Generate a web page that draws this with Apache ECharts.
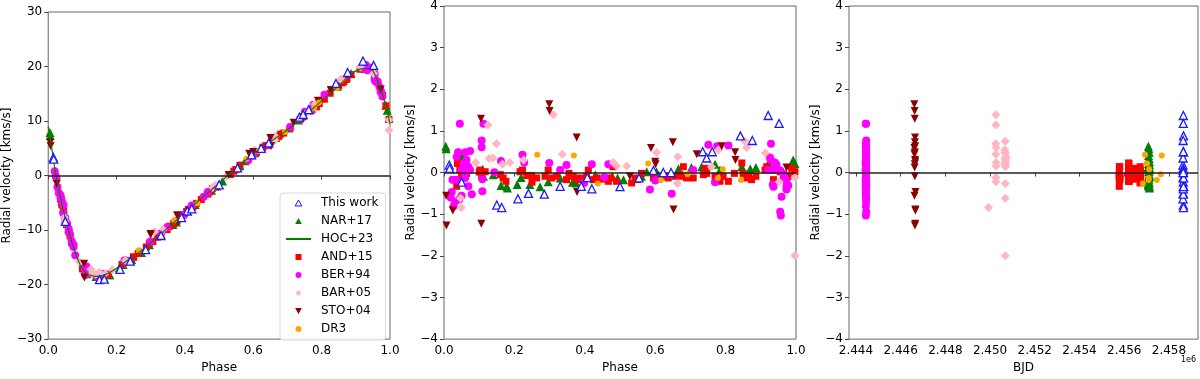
<!DOCTYPE html>
<html>
<head>
<meta charset="utf-8">
<title>RV residuals</title>
<script src="https://cdn.jsdelivr.net/npm/echarts@6/dist/echarts.min.js"></script>
</head>
<body style="margin:0;padding:0;background:#fff">
<div id="chart" style="width:1200px;height:379px"></div>
<script>
// HOC+23 model curve
var hocPhase = [0,0.01,0.02,0.03,0.04,0.05,0.06,0.07,0.08,0.09,0.10,0.11,0.12,0.13,0.145,0.16,0.18,0.20,0.22,0.25,0.28,0.30,0.32,0.35,0.40,0.45,0.50,0.525,0.55,0.60,0.65,0.70,0.75,0.80,0.85,0.88,0.90,0.92,0.94,0.95,0.96,0.97,0.98,0.99,1.0];
var hocRv = [9.0,5.2,1.0,-2.2,-5.2,-7.9,-10.3,-12.4,-14.3,-15.9,-17.1,-17.8,-18.2,-18.4,-18.5,-18.3,-17.8,-17.0,-16.1,-14.8,-13.4,-12.3,-11.2,-9.6,-6.8,-4.1,-1.4,0.0,1.3,4.0,6.2,8.4,11.0,13.7,16.5,18.3,19.2,19.6,19.6,19.2,17.9,16.2,14.5,12.2,9.5];

// This work
var twPhase = [0.015,0.016,0.05,0.15,0.164,0.21,0.24,0.285,0.33,0.39,0.407,0.42,0.5,0.554,0.595,0.623,0.645,0.735,0.746,0.762,0.842,0.876,0.921,0.952];
var twRv = [3.3,3.0,-8.4,-19.1,-19.0,-17.2,-15.7,-13.6,-11.0,-7.7,-6.5,-6.1,-1.7,1.4,3.8,5.0,6.0,10.7,11.2,12.1,16.9,18.9,21.0,20.2];
var twRes = [0.18,0.1,-0.23,-0.78,-0.84,-0.63,-0.5,-0.52,-0.33,-0.33,-0.12,-0.39,-0.34,-0.13,0.05,0,0,0.5,0.35,0.5,0.88,0.77,1.37,1.18];
var twBjd = [2458628,2458634,2458640,2458646,2458652,2458630,2458638,2458644,2458650,2458656,2458632,2458642,2458648,2458654,2458636,2458646,2458640,2458650,2458634,2458644,2458652,2458638,2458646,2458642];

// NAR+17
var narPhase = [0.005,0.006,0.04,0.05,0.055,0.044,0.11,0.112,0.14,0.162,0.178,0.18,0.208,0.219,0.244,0.273,0.296,0.33,0.365,0.375,0.43,0.478,0.493,0.51,0.561,0.576,0.604,0.666,0.703,0.732,0.77,0.784,0.846,0.87,0.886,0.921,0.926,0.988,0.992,0.997];
var narRv = [7.9,7.3,-4.7,-7.5,-8.8,-6.0,-17.7,-18.0,-18.5,-18.6,-18.2,-18.2,-16.9,-16.3,-15.4,-14.1,-12.7,-10.8,-9.0,-8.5,-5.3,-2.7,-1.9,-1.0,1.8,2.7,4.2,7.0,8.7,10.2,12.3,12.9,16.4,17.8,18.7,19.8,19.7,12.9,12.0,10.5];
var narRes = [0.63,0.57,0.49,0.41,0.34,0.26,0.08,-0.09,-0.05,-0.31,-0.33,-0.37,-0.29,-0.12,-0.29,-0.34,-0.22,-0.13,-0.23,-0.25,-0.05,-0.09,-0.13,-0.17,-0.09,0.02,0.02,0.09,0.12,0.14,0.2,0.06,0.14,0.09,0.12,0.22,0.14,0.18,0.3,0.22];
var narBjd = [2457080,2457100,2457120,2457090,2457110,2457130,2457070,2457100,2457120,2457085,2457105,2457125,2457075,2457095,2457115,2457135,2457080,2457100,2457120,2457090,2457110,2457130,2457070,2457100,2457120,2457085,2457105,2457125,2457075,2457095,2457115,2457135,2457080,2457100,2457120,2457090,2457110,2457130,2457070,2457100];

// AND+15
var andPhase = [0.036,0.04,0.045,0.055,0.064,0.038,0.05,0.1,0.107,0.117,0.102,0.16,0.168,0.176,0.216,0.223,0.235,0.249,0.263,0.25,0.287,0.296,0.306,0.32,0.348,0.355,0.367,0.377,0.386,0.396,0.41,0.405,0.424,0.434,0.448,0.467,0.48,0.49,0.472,0.533,0.543,0.549,0.561,0.595,0.609,0.628,0.637,0.656,0.67,0.68,0.689,0.708,0.675,0.737,0.742,0.746,0.77,0.784,0.793,0.808,0.825,0.846,0.85,0.86,0.865,0.874,0.886,0.912,0.917,0.936,0.955,0.964,0.978,0.988,0.997];
var andRv = [-4.3,-5.4,-6.5,-9.0,-11.1,-4.4,-8.0,-17.1,-17.7,-18.1,-17.1,-18.4,-18.2,-18.1,-16.3,-15.9,-15.6,-14.9,-14.3,-15.0,-13.1,-12.4,-12.1,-11.3,-9.9,-9.3,-8.8,-8.3,-7.7,-7.2,-6.2,-6.6,-5.7,-5.1,-4.4,-3.4,-2.4,-2.1,-3.0,0.2,0.8,1.1,1.9,3.6,4.2,5.1,5.5,6.4,7.1,7.6,7.8,8.7,7.2,10.3,10.7,10.8,12.0,12.6,13.2,14.0,15.1,16.5,16.5,17.0,17.2,17.8,18.5,19.5,19.7,19.4,18.6,17.1,14.7,12.8,10.3];
var andRes = [-0.33,-0.17,0.06,0.14,-0.02,0.22,-0.05,0.01,-0.09,0.02,0.06,-0.05,-0.13,-0.21,0.02,0.06,-0.07,-0.07,-0.13,-0.23,-0.09,0.06,-0.13,-0.09,-0.17,-0.02,-0.09,-0.17,-0.13,-0.17,0.06,-0.09,-0.17,-0.13,-0.16,-0.21,0.14,-0.21,-0.13,-0.25,-0.13,-0.17,-0.02,-0.13,-0.16,-0.09,-0.13,-0.09,-0.05,0.14,-0.13,-0.13,-0.09,-0.05,0.1,-0.02,-0.09,-0.21,-0.09,-0.21,-0.02,0.23,-0.02,-0.13,-0.09,-0.17,-0.09,0.06,0.14,-0.17,0.02,-0.13,-0.09,0.1,0.02];
var andBjd = [2455780,2456200,2456470,2456710,2455790,2456210,2456480,2456720,2455800,2456220,2456490,2456730,
  2455780,2456200,2456470,2456710,2455790,2456210,2456480,2456720,2455800,2456220,2456490,2456730,
  2455780,2456200,2456470,2456710,2455790,2456210,2456480,2456720,2455800,2456220,2456490,2456730,
  2455780,2456200,2456470,2456710,2455790,2456210,2456480,2456720,2455800,2456220,2456490,2456730,
  2455780,2456200,2456470,2456710,2455790,2456210,2456480,2456720,2455800,2456220,2456490,2456730,
  2455780,2456200,2456470,2456710,2455790,2456210,2456480,2456720,2455800,2456220,2456490,2456730,
  2455780,2456200,2456470];

// BER+94
var berPhase = [0.045,0.022,0.019,0.027,0.031,0.024,0.036,0.04,0.06,0.074,0.05,0.055,0.064,0.069,0.06,0.069,0.05,0.044,0.079,0.06,0.074,0.036,0.107,0.107,0.112,0.109,0.109,0.143,0.162,0.223,0.228,0.299,0.33,0.348,0.42,0.398,0.455,0.467,0.585,0.6,0.647,0.751,0.77,0.776,0.808,0.708,0.929,0.926,0.928,0.936,0.94,0.934,0.936,0.945,0.921,0.955,0.959,0.955,0.957,0.969,0.973,0.973,0.978,0.964,0.973];
var berRv = [-5.4,-0.1,0.8,-2.1,-3.2,-0.5,-4.2,-4.7,-9.8,-12.7,-7.8,-8.9,-10.8,-12.1,-10.4,-12.5,-8.5,-6.9,-14.6,-10.3,-13.1,-3.6,-16.8,-17.0,-16.7,-17.9,-18.2,-18.5,-18.0,-15.6,-15.6,-12.1,-10.6,-9.5,-5.5,-7.2,-3.9,-3.0,2.8,3.8,5.6,11.7,11.9,13.0,14.8,8.9,20.3,20.0,19.9,19.7,19.8,19.3,19.3,19.6,19.7,18.6,17.4,17.6,17.3,16.3,15.4,15.5,14.5,17.2,15.3];
var berRes = [1.17,-0.47,-0.6,-0.81,-0.7,-0.17,-0.17,0.49,0.49,0.52,0.06,0.22,0.3,0.14,-0.13,-0.33,-0.56,-0.64,-0.52,-0.02,0.06,0.38,0.77,0.61,1.17,-0.16,-0.45,0.01,0.28,0.43,0.24,0.23,0.06,0.18,0.2,-0.25,-0.11,0.2,-0.41,-0.19,-0.51,0.67,-0.23,0.63,0.65,0.06,0.69,0.36,0.3,0.06,0.24,-0.29,-0.34,0.18,0.06,0.05,-0.58,-0.94,-1.03,-0.13,-0.33,-0.21,-0.31,-0.02,-0.41];
var berBjd = [2444440,2444450,2444460,2444445,2444455,2444440,2444450,2444460,2444445,2444455,
  2444440,2444450,2444460,2444445,2444455,2444440,2444450,2444460,2444445,2444455,
  2444440,2444450,2444460,2444445,2444455,2444440,2444450,2444460,2444445,2444455,
  2444440,2444450,2444460,2444445,2444455,2444440,2444450,2444460,2444445,2444455,
  2444440,2444450,2444460,2444445,2444455,2444440,2444450,2444460,2444445,2444455,
  2444440,2444450,2444460,2444445,2444455,2444440,2444450,2444460,2444445,2444455,
  2444440,2444450,2444460,2444445,2444455];

// BAR+05
var barPhase = [0.047,0.049,0.09,0.125,0.128,0.139,0.149,0.166,0.187,0.226,0.311,0.336,0.481,0.49,0.519,0.604,0.664,0.663,0.76,0.78,0.855,0.86,0.913,0.952,0.997,0.997];
var barRv = [-7.7,-8.4,-15.7,-17.2,-18.0,-18.1,-17.8,-18.0,-17.3,-15.6,-10.3,-9.9,-2.2,-1.8,-0.2,4.7,7.2,6.5,11.7,13.1,17.6,17.7,19.9,18.7,8.3,10.2];
var barRes = [-0.62,-0.84,0.24,1.14,0.34,0.35,0.69,0.2,0.24,0.3,1.39,0.44,0.24,0.16,0.16,0.48,0.38,-0.26,0.14,0.54,0.75,0.6,0.47,-0.22,-2.0,-0.12];
var barBjd = [2450680,2449930,2450690,2450260,2450670,2450700,2450250,2450660,2450270,2450680,2450260,2450255,2450690,2450265,2450675,2450665,2450700,2450680,2450690,2450660,2450680,2450270,2450690,2450255,2450680,2450260];

// STO+04
var stoPhase = [0.006,0.007,0.025,0.105,0.106,0.299,0.3,0.377,0.378,0.528,0.588,0.6,0.601,0.65,0.652,0.718,0.789,0.827,0.828,0.973];
var stoRv = [6.1,5.4,-1.5,-16.2,-18.7,-10.7,-10.8,-7.3,-8.5,0.1,4.0,4.3,4.2,6.9,5.4,9.7,13.7,15.7,15.6,15.8];
var stoRes = [-0.56,-1.27,-0.91,1.29,-1.23,1.64,1.48,0.84,-0.47,-0.09,0.59,0.26,0.2,0.73,-0.89,0.44,0.63,0.49,0.3,0.12];
var stoBjd = [2446620,2446640,2446660,2446630,2446650,2446610,2446625,2446645,2446665,2446635,2446615,2446655,2446630,2446640,2446660,2446620,2446650,2446635,2446645,2446625];

// DR3
var dr3Phase = [0.265,0.369,0.437,0.58,0.616,0.692,0.778,0.792,0.844];
var dr3Rv = [-13.7,-8.2,-5.1,3.1,4.5,8.0,12.4,13.4,16.0];
var dr3Res = [0.43,0.41,-0.26,0.22,-0.18,-0.04,-0.13,0.08,-0.18];
var dr3Bjd = [2456930,2457680,2456830,2457020,2457460,2457640,2457100,2457120,2457090];

var bjdTicks = [2444000,2446000,2448000,2450000,2452000,2454000,2456000,2458000];

function zip(a, b) { return a.map(function (v, i) { return [v, b[i]]; }); }
function minus(v) { return v < 0 ? '\u2212' + Math.abs(v) : String(v); }

var font = 'DejaVu Sans';
var txt = { color: '#000', fontFamily: font, fontSize: 12 };

var styles = {
  'This work': { symbol: 'triangle', symbolSize: 8, itemStyle: { color: '#fff', borderColor: '#1a1aff', borderWidth: 1.3, opacity: 1 }, z: 5 },
  'NAR+17': { symbol: 'triangle', symbolSize: 9, itemStyle: { color: '#008000', opacity: 1 }, z: 2 },
  'AND+15': { symbol: 'rect', symbolSize: 7, itemStyle: { color: '#ff0000', opacity: 1 }, z: 2 },
  'BER+94': { symbol: 'circle', symbolSize: 8, itemStyle: { color: '#ff00ff', opacity: 1 }, z: 2 },
  'BAR+05': { symbol: 'diamond', symbolSize: 9, itemStyle: { color: '#ffb6c1', opacity: 1 }, z: 2 },
  'STO+04': { symbol: 'triangle', symbolSize: 8, symbolRotate: 180, itemStyle: { color: '#8b0000', opacity: 1 }, z: 2 },
  'DR3': { symbol: 'circle', symbolSize: 6, itemStyle: { color: '#ffa500', opacity: 1 }, z: 2 }
};

var sets = [
  ['This work', twPhase, twRv, twRes, twBjd],
  ['NAR+17', narPhase, narRv, narRes, narBjd],
  ['AND+15', andPhase, andRv, andRes, andBjd],
  ['BER+94', berPhase, berRv, berRes, berBjd],
  ['BAR+05', barPhase, barRv, barRes, barBjd],
  ['STO+04', stoPhase, stoRv, stoRes, stoBjd],
  ['DR3', dr3Phase, dr3Rv, dr3Res, dr3Bjd]
];

var zeroLine = {
  silent: true, symbol: ['none', 'none'], label: { show: false },
  lineStyle: { color: '#222', width: 1.5, type: 'solid' },
  data: [{ yAxis: 0 }], animation: false
};

var series = [];
sets.forEach(function (s) {
  var st = styles[s[0]];
  var panels = [zip(s[1], s[2]), zip(s[1], s[3]), zip(s[4], s[3])];
  panels.forEach(function (d, g) {
    var ser = {
      name: s[0], type: 'scatter', xAxisIndex: g, yAxisIndex: g,
      symbol: st.symbol, symbolSize: st.symbolSize, symbolRotate: st.symbolRotate || 0,
      itemStyle: st.itemStyle, z: st.z, data: d
    };
    if (s[0] === 'This work' && g > 0) ser.markLine = zeroLine;
    series.push(ser);
  });
});
series.push({
  name: 'HOC+23', type: 'line', xAxisIndex: 0, yAxisIndex: 0,
  data: zip(hocPhase, hocRv), smooth: 0.3, symbol: 'none', z: 4,
  lineStyle: { color: '#008000', width: 1.2 }, itemStyle: { color: '#008000' },
  markLine: zeroLine
});

function xAx(g, min, max, name, extra) {
  var a = {
    gridIndex: g, type: 'value', min: min, max: max,
    name: name, nameLocation: 'middle', nameGap: 17, nameTextStyle: txt,
    axisLine: { show: false }, splitLine: { show: false },
    axisTick: { show: true, length: 4, lineStyle: { color: '#444' } },
    axisLabel: Object.assign({ margin: 6, formatter: function (v) { return v.toFixed(1); } }, txt)
  };
  return Object.assign(a, extra || {});
}
function yAx(g, min, max, interval, gap) {
  return {
    gridIndex: g, type: 'value', min: min, max: max, interval: interval,
    name: 'Radial velocity [kms/s]', nameLocation: 'middle', nameGap: gap, nameTextStyle: txt,
    axisLine: { show: false }, splitLine: { show: false },
    axisTick: { show: true, length: 4, lineStyle: { color: '#444' } },
    axisLabel: Object.assign({ margin: 6, formatter: minus }, txt)
  };
}

var gridBase = { show: true, borderColor: '#666', borderWidth: 1, backgroundColor: 'transparent', containLabel: false };

var pathTri = 'path://M5,0L10,9L0,9Z';
var pathDown = 'path://M0,0L10,0L5,9Z';
var pathSq = 'path://M0,0H10V10H0Z';
var pathDia = 'path://M5,0L10,5L5,10L0,5Z';

var option = {
  animation: false,
  backgroundColor: '#fff',
  grid: [
    Object.assign({ left: 44, top: 12, width: 346, height: 336 }, gridBase),
    Object.assign({ left: 444, top: 5, width: 352, height: 343 }, gridBase),
    Object.assign({ left: 849, top: 6, width: 349, height: 342 }, gridBase)
  ],
  xAxis: [
    xAx(0, 0, 1, 'Phase', { interval: 0.2 }),
    xAx(1, 0, 1, 'Phase', { interval: 0.2 }),
    xAx(2, 2443690, 2459300, 'BJD', {
      axisTick: { show: true, length: 4, lineStyle: { color: '#444' }, customValues: bjdTicks },
      axisLabel: Object.assign({ margin: 6, customValues: bjdTicks, formatter: function (v) { return (v / 1e6).toFixed(3); } }, txt)
    })
  ],
  yAxis: [
    yAx(0, -30, 30, 10, 29),
    yAx(1, -4, 4, 1, 24),
    yAx(2, -4, 4, 1, 24)
  ],
  legend: {
    left: 280, top: 193, orient: 'vertical',
    itemWidth: 25, itemHeight: 6, itemGap: 6,
    padding: [4, 7, 5, 5],
    borderColor: '#d8d8d8', borderWidth: 1, borderRadius: 3,
    backgroundColor: 'rgba(255,255,255,0.85)',
    textStyle: { color: '#000', fontFamily: font, fontSize: 12, lineHeight: 12, padding: [0, 0, 0, 5] },
    data: [
      { name: 'This work', icon: pathTri, itemStyle: { color: '#fff', borderColor: '#1a1aff', borderWidth: 1 } },
      { name: 'NAR+17', icon: pathTri },
      { name: 'HOC+23', itemStyle: { color: 'transparent', borderWidth: 0, borderColor: 'transparent' } },
      { name: 'AND+15', icon: pathSq },
      { name: 'BER+94', icon: 'circle' },
      { name: 'BAR+05', icon: pathDia },
      { name: 'STO+04', icon: pathDown },
      { name: 'DR3', icon: 'circle', itemStyle: { color: '#ffa500' } }
    ]
  },
  graphic: [
    { type: 'text', left: 1181, top: 356, style: { text: '1e6', fontSize: 8, fontFamily: font, fill: '#000' } }
  ],
  series: series
};

var chart = echarts.init(document.getElementById('chart'));
chart.setOption(option);
</script>
</body>
</html>
